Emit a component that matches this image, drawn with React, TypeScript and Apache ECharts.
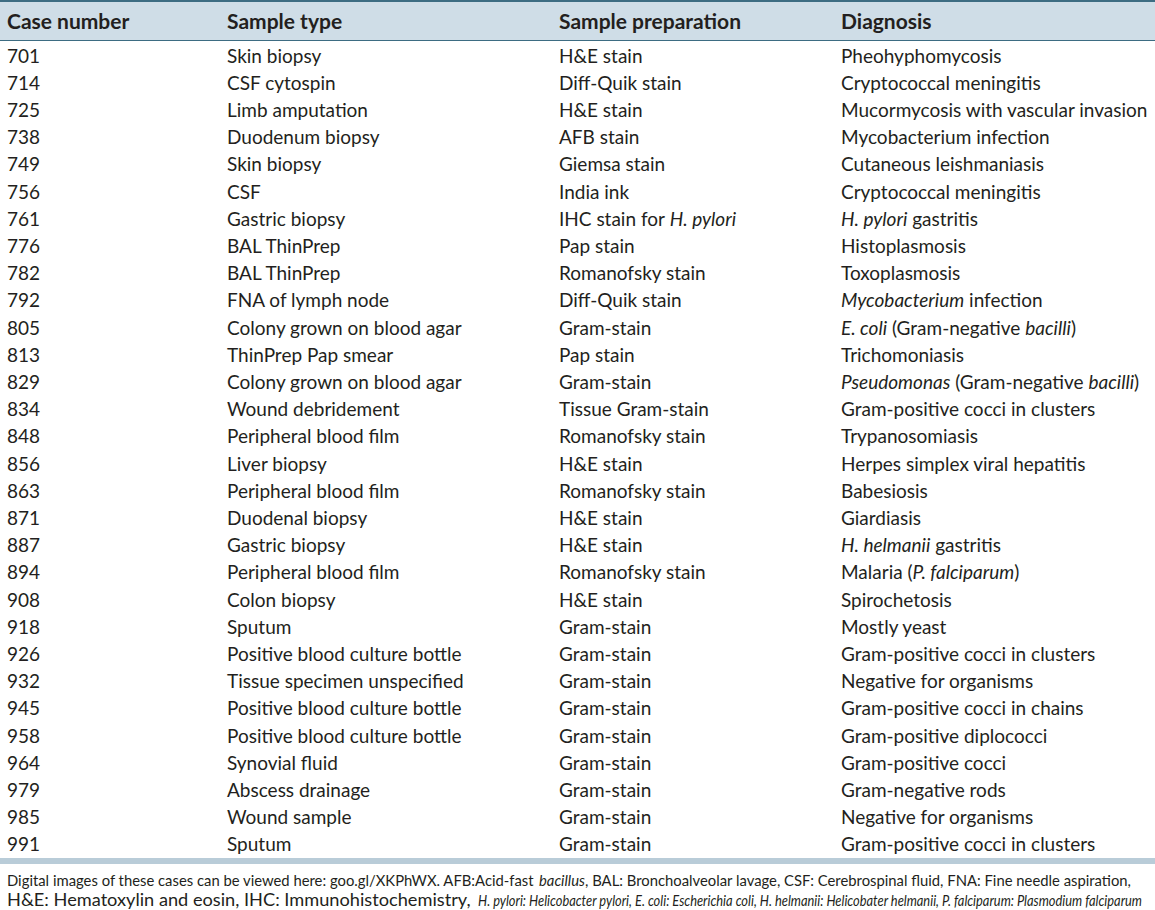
import { useEffect, useRef } from "react";
import * as echarts from "echarts";

const headers = ["Case number", "Sample type", "Sample preparation", "Diagnosis"];
const caseNumbers = ["701","714","725","738","749","756","761","776","782","792","805","813","829","834","848","856","863","871","887","894","908","918","926","932","945","958","964","979","985","991"];
const sampleTypes = [
  "Skin biopsy","CSF cytospin","Limb amputation","Duodenum biopsy","Skin biopsy","CSF","Gastric biopsy","BAL ThinPrep","BAL ThinPrep","FNA of lymph node",
  "Colony grown on blood agar","ThinPrep Pap smear","Colony grown on blood agar","Wound debridement","Peripheral blood film","Liver biopsy","Peripheral blood film","Duodenal biopsy","Gastric biopsy","Peripheral blood film",
  "Colon biopsy","Sputum","Positive blood culture bottle","Tissue specimen unspecified","Positive blood culture bottle","Positive blood culture bottle","Synovial fluid","Abscess drainage","Wound sample","Sputum"
];
const preparations = [
  "H&E stain","Diff-Quik stain","H&E stain","AFB stain","Giemsa stain","India ink","IHC stain for _H. pylori_","Pap stain","Romanofsky stain","Diff-Quik stain",
  "Gram-stain","Pap stain","Gram-stain","Tissue Gram-stain","Romanofsky stain","H&E stain","Romanofsky stain","H&E stain","H&E stain","Romanofsky stain",
  "H&E stain","Gram-stain","Gram-stain","Gram-stain","Gram-stain","Gram-stain","Gram-stain","Gram-stain","Gram-stain","Gram-stain"
];
const diagnoses = [
  "Pheohyphomycosis","Cryptococcal meningitis","Mucormycosis with vascular invasion","Mycobacterium infection","Cutaneous leishmaniasis","Cryptococcal meningitis","_H. pylori_ gastritis","Histoplasmosis","Toxoplasmosis","_Mycobacterium_ infection",
  "_E. coli_ (Gram-negative _bacilli_)","Trichomoniasis","_Pseudomonas_ (Gram-negative _bacilli_)","Gram-positive cocci in clusters","Trypanosomiasis","Herpes simplex viral hepatitis","Babesiosis","Giardiasis","_H. helmanii_ gastritis","Malaria (_P. falciparum_)",
  "Spirochetosis","Mostly yeast","Gram-positive cocci in clusters","Negative for organisms","Gram-positive cocci in chains","Gram-positive diplococci","Gram-positive cocci","Gram-negative rods","Negative for organisms","Gram-positive cocci in clusters"
];
const footnoteLine1 = [
  "Digital images of these cases can be viewed here: goo.gl/XKPhWX. AFB:Acid-fast _bacillus_, BAL: Bronchoalveolar lavage, CSF: Cerebrospinal fluid, FNA: Fine needle aspiration,"
];
const footnoteLine2 = [
  "H&E: Hematoxylin and eosin, IHC: Immunohistochemistry,",
  "_H. pylori: Helicobacter pylori, E. coli: Escherichia coli, H. helmanii: Helicobater helmanii, P. falciparum: Plasmodium falciparum_"
];

const W = 1155;
const H = 910;
const colX = [7, 227, 559, 841];
const FONT = "Lato";
const TEXT = "#231f20";

const toRich = (s: string) => s.replace(/_([^_]+)_/g, "{i|$1}");

let ctx: CanvasRenderingContext2D | null = null;
function measureMarked(s: string, size: number) {
  if (!ctx) ctx = document.createElement("canvas").getContext("2d");
  let w = 0;
  const parts = s.split("_");
  parts.forEach((p, k) => {
    ctx!.font = `${k % 2 === 1 ? "italic " : ""}${size}px ${FONT}`;
    w += ctx!.measureText(p).width;
  });
  return w;
}

export default function App() {
  const ref = useRef<HTMLDivElement>(null);
  useEffect(() => {
    if (!ref.current) return;
    const chart = echarts.init(ref.current, null, { renderer: "svg" });
    const rowY0 = 55;
    const rowH = 27.2;
    const els: any[] = [];
    els.push({ type: "rect", shape: { x: 0, y: 1, width: W, height: 39 }, style: { fill: "#cfdde7" } });
    els.push({ type: "line", shape: { x1: 0, y1: 1, x2: W, y2: 1 }, style: { stroke: "#3d6c82", lineWidth: 2 } });
    els.push({ type: "line", shape: { x1: 0, y1: 40.5, x2: W, y2: 40.5 }, style: { stroke: "#3d6c82", lineWidth: 1 } });
    els.push({ type: "rect", shape: { x: 0, y: 858, width: W, height: 6 }, style: { fill: "#b9ccd8" } });
    headers.forEach((h, c) => {
      els.push({ type: "text", x: colX[c], y: 20, style: { text: h, fill: TEXT, font: `bold 21px ${FONT}`, verticalAlign: "middle", align: "left" } });
    });
    const cols = [caseNumbers, sampleTypes, preparations, diagnoses];
    cols.forEach((col, c) => {
      col.forEach((v, r) => {
        els.push({
          type: "text", x: colX[c], y: rowY0 + r * rowH,
          style: {
            text: toRich(v), fill: TEXT, fontFamily: FONT, fontSize: 19, verticalAlign: "middle", align: "left",
            rich: { i: { fontStyle: "italic", fontFamily: FONT, fontSize: 19, fill: TEXT } }
          }
        });
      });
    });
    const segs: { s: string; x0: number; x1: number; y: number; size: number }[] = [
      { s: footnoteLine1[0], x0: 7, x1: 1132, y: 880, size: 15.5 },
      { s: footnoteLine2[0], x0: 7, x1: 471, y: 900, size: 16.5 },
      { s: footnoteLine2[1], x0: 478, x1: 1143, y: 900, size: 15.5 }
    ];
    segs.forEach((g) => {
      const w = measureMarked(g.s, g.size);
      const sx = w > 0 ? (g.x1 - g.x0) / w : 1;
      els.push({
        type: "text", x: g.x0, y: g.y, scaleX: sx,
        style: {
          text: toRich(g.s), fill: TEXT, fontFamily: FONT, fontSize: g.size, verticalAlign: "middle", align: "left",
          rich: { i: { fontStyle: "italic", fontFamily: FONT, fontSize: g.size, fill: TEXT } }
        }
      });
    });
    chart.setOption({ animation: false, backgroundColor: "#ffffff", graphic: { elements: els } });
    return () => chart.dispose();
  }, []);
  return <div ref={ref} style={{ position: "fixed", left: 0, top: 0, width: W, height: H }} />;
}
